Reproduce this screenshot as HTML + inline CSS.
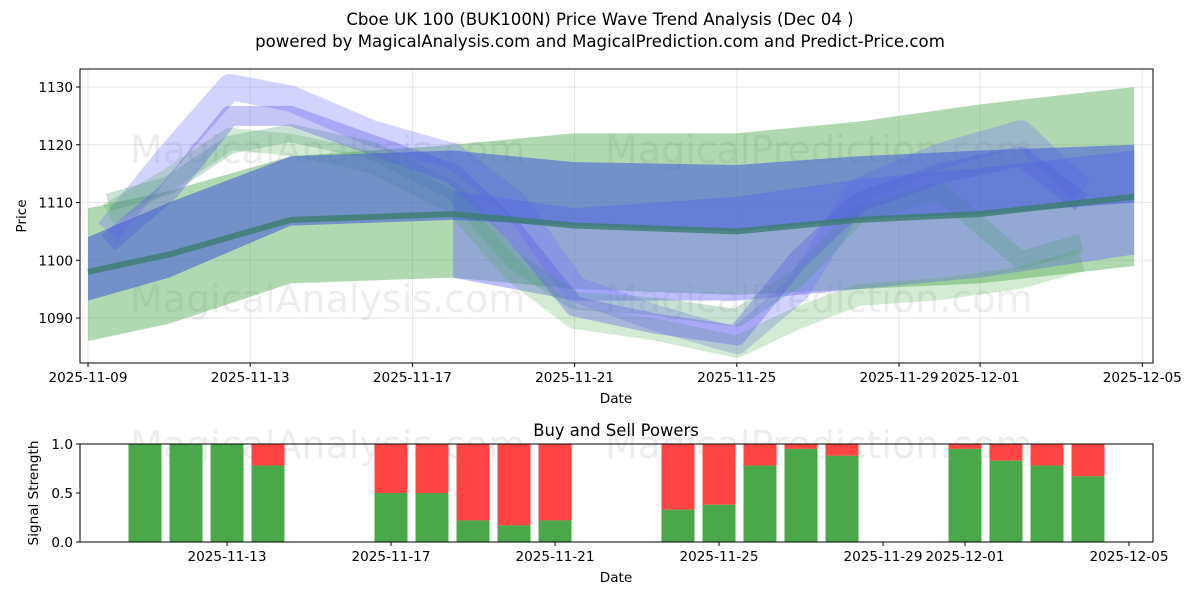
<!DOCTYPE html>
<html><head><meta charset="utf-8">
<style>
body{margin:0;background:#fff;font-family:"Liberation Sans","DejaVu Sans",sans-serif;}
svg text{font-family:"DejaVu Sans","Liberation Sans",sans-serif;}
</style></head>
<body>
<svg id="chart" width="1200" height="600" xmlns="http://www.w3.org/2000/svg">
<rect width="1200" height="600" fill="#fff"/>
<text x="600" y="25" text-anchor="middle" font-size="16.6">Cboe UK 100 (BUK100N) Price Wave Trend Analysis (Dec 04 )</text>
<text x="600" y="47" text-anchor="middle" font-size="16.6">powered by MagicalAnalysis.com and MagicalPrediction.com and Predict-Price.com</text>
<g id="topg"></g>
<g id="botg"></g>
</svg>
<script>
// ---- data ----
const dateTicks = ["2025-11-09","2025-11-13","2025-11-17","2025-11-21","2025-11-25","2025-11-29","2025-12-01","2025-12-05"];
const dateTickDays = [0,4,8,12,16,20,22,26];
const priceTicks = [1090,1100,1110,1120,1130];
const bandDays = [0,2,5,9,12,16,19,22,25.8];
const greenUpper = [1109,1112,1118,1120,1122,1122,1124,1127,1130];
const greenLower = [1086,1089,1096,1097,1095,1094,1095,1096,1099];
const blueUpper = [1104,1110,1118,1119,1117,1116.5,1118,1119,1120];
const blueLower = [1093,1097,1106,1107,1106,1105,1107,1108,1110];
const midLine = [1098,1101,1107,1108,1106,1105,1107,1108,1111];
const lowBandDays = [9,12,16,19,22,25.8];
const lowBandUpper = [1112,1109,1111,1114,1116,1119];
const lowBandLower = [1097,1093,1093,1095,1097,1101];
const waveDays = [0.5,2,3.5,5,7,9,10.5,12,14,16,17.5,19,21,23,24.5];
const waveA = [1103,1112,1125,1125,1120,1115,1105,1092,1089,1087,1100,1110,1115,1118,1110];
const waveB = [1110,1113,1120,1122,1119,1112,1100,1093,1092,1090,1097,1108,1112,1100,1103];
const waveC = [1105,1118,1130,1128,1122,1118,1110,1095,1090,1086,1095,1112,1118,1122,1112];
const waveD = [1108,1114,1121,1120,1117,1110,1098,1090,1088,1085,1090,1094,1095,1097,1100];
const barDays = [2,3,4,5,8,9,10,11,12,15,16,17,18,19,22,23,24,25];
const buyVals = [1,1,1,0.78,0.5,0.5,0.22,0.17,0.22,0.33,0.38,0.78,0.95,0.88,0.95,0.83,0.78,0.67];
const sigTicks = [0,0.5,1.0];

const NS="http://www.w3.org/2000/svg";
function mk(tag,attrs,parent,txt){const e=document.createElementNS(NS,tag);for(const k in attrs)e.setAttribute(k,attrs[k]);if(txt!==undefined)e.textContent=txt;parent.appendChild(e);return e;}
const topG=document.getElementById('topg'), botG=document.getElementById('botg');
const AX={l:80,r:1153,t:69,b:363};
const xT=d=>88+d*40.55;
const yT=p=>87+(1130-p)*5.775;
const BX={l:80,r:1153,t:444,b:542};
const xB=d=>63+d*41;
const yB=v=>542-v*98;
const FS=13.6;

priceTicks.forEach(p=>{const l=mk('line',{x1:AX.l,x2:AX.r,y1:yT(p),y2:yT(p),stroke:'#e6e6e6'},topG);

});
dateTickDays.forEach(d=>{const l=mk('line',{x1:xT(d),x2:xT(d),y1:AX.t,y2:AX.b,stroke:'#e6e6e6'},topG);

});
[[130,163,"MagicalAnalysis.com"],[605,163,"MagicalPrediction.com"],[130,312,"MagicalAnalysis.com"],[605,312,"MagicalPrediction.com"]].forEach(w=>{const t=mk('text',{x:w[0],y:w[1],'font-size':38,fill:'rgba(0,0,0,0.07)'},topG,w[2]);

});
function band(days,up,lo,fill,name){
  let pts=days.map((d,i)=>xT(d)+','+yT(up[i]));
  pts=pts.concat(days.map((d,i)=>xT(d)+','+yT(lo[i])).reverse());
  const p=mk('polygon',{points:pts.join(' '),fill:fill},topG);
  
  
}
function line(days,vals,stroke,w,name){
  const p=mk('polyline',{points:days.map((d,i)=>xT(d)+','+yT(vals[i])).join(' '),fill:'none',stroke:stroke,'stroke-width':w,'stroke-linejoin':'round'},topG);
  
  
}
band(bandDays,greenUpper,greenLower,'rgba(60,160,60,0.4)','green-range-band');
band(lowBandDays,lowBandUpper,lowBandLower,'rgba(110,110,255,0.45)','blue-lower-band');
line(waveDays,waveC,'rgba(110,110,255,0.3)',26,'wave-c');
line(waveDays,waveD,'rgba(80,170,80,0.25)',22,'wave-d');
line(waveDays,waveB,'rgba(80,160,120,0.3)',18,'wave-b');
line(waveDays,waveA,'rgba(90,90,230,0.35)',20,'wave-a');
band(bandDays,blueUpper,blueLower,'rgba(75,100,215,0.62)','blue-main-band');
line(bandDays,midLine,'rgba(60,125,110,0.8)',6,'mid-trend-line');
const f1=mk('rect',{x:AX.l,y:AX.t,width:AX.r-AX.l,height:AX.b-AX.t,fill:'none',stroke:'#000','stroke-width':1},topG);


priceTicks.forEach(p=>{mk('line',{x1:AX.l-4,x2:AX.l,y1:yT(p),y2:yT(p),stroke:'#000'},topG);const t=mk('text',{x:AX.l-7,y:yT(p)+5,'text-anchor':'end','font-size':FS},topG,p);

});
dateTicks.forEach((s,i)=>{const x=xT(dateTickDays[i]);mk('line',{x1:x,x2:x,y1:AX.b,y2:AX.b+4,stroke:'#000'},topG);const t=mk('text',{x:x,y:AX.b+19,'text-anchor':'middle','font-size':FS},topG,s);

});
let t1=mk('text',{x:616,y:403,'text-anchor':'middle','font-size':FS},topG,'Date');


let t2=mk('text',{x:26,y:216,'text-anchor':'middle','font-size':FS,transform:'rotate(-90 26 216)'},topG,'Price');



[[130,458,"MagicalAnalysis.com"],[605,458,"MagicalPrediction.com"]].forEach(w=>{const t=mk('text',{x:w[0],y:w[1],'font-size':38,fill:'rgba(0,0,0,0.07)'},botG,w[2]);

});
let bt=mk('text',{x:616,y:436,'text-anchor':'middle','font-size':16.4},botG,'Buy and Sell Powers');


barDays.forEach((d,i)=>{
  const x=xB(d)-16.5,v=buyVals[i];
  const r=mk('rect',{x:x,y:yB(1),width:33,height:yB(v)-yB(1),fill:'#ff4444'},botG);
  
  
  const g=mk('rect',{x:x,y:yB(v),width:33,height:yB(0)-yB(v),fill:'#4aa84a'},botG);
  
  
});
const f2=mk('rect',{x:BX.l,y:BX.t,width:BX.r-BX.l,height:BX.b-BX.t,fill:'none',stroke:'#000'},botG);


sigTicks.forEach(v=>{mk('line',{x1:BX.l-4,x2:BX.l,y1:yB(v),y2:yB(v),stroke:'#000'},botG);const t=mk('text',{x:BX.l-7,y:yB(v)+5,'text-anchor':'end','font-size':FS},botG,v.toFixed(1));

});
dateTicks.slice(1).forEach((s,i)=>{const x=xB(dateTickDays[i+1]);mk('line',{x1:x,x2:x,y1:BX.b,y2:BX.b+4,stroke:'#000'},botG);const t=mk('text',{x:x,y:BX.b+19,'text-anchor':'middle','font-size':FS},botG,s);

});
let t3=mk('text',{x:616,y:582,'text-anchor':'middle','font-size':FS},botG,'Date');


let t4=mk('text',{x:38,y:493,'text-anchor':'middle','font-size':FS,transform:'rotate(-90 38 493)'},botG,'Signal Strength');


</script>
</body></html>
